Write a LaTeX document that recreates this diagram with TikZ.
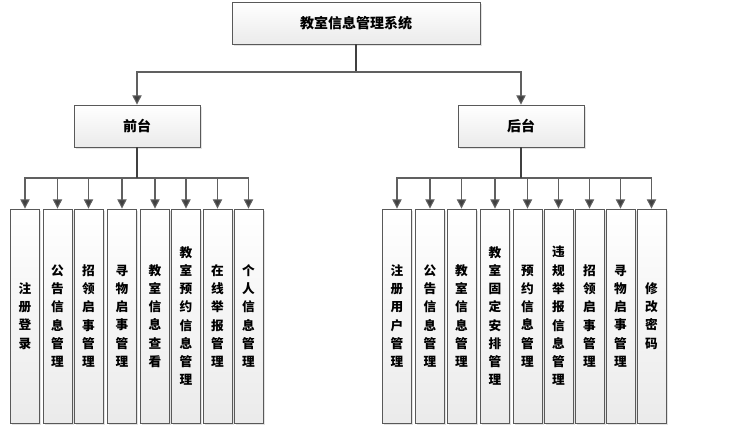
\documentclass[tikz,border=0pt]{standalone}
\usepackage{fontspec}
\newfontfamily\cjk{Noto Sans CJK SC}
\usetikzlibrary{arrows.meta,shadows}
\begin{document}
\begin{tikzpicture}[x=0.75pt,y=-0.75pt,
  box/.style={draw=gray!70!black, line width=0.6pt, top color=white, bottom color=gray!16,
    drop shadow={shadow xshift=1.2pt,shadow yshift=-1.2pt,fill=gray!45},
    font=\cjk\bfseries\fontsize{10.5pt}{12pt}\selectfont, inner sep=0pt},
  hbox/.style={box, minimum width=94.5pt, minimum height=31.5pt},
  vbox/.style={box, minimum width=21.75pt, minimum height=160.5pt, align=center,
    font=\cjk\bfseries\fontsize{9.5pt}{13.7pt}\selectfont},
  trunk/.style={draw=black!75, line width=1.3pt},
  arr/.style={draw=gray!75!black, line width=0.8pt, -{Triangle[width=7pt,length=7pt,fill=black!75]}}
]
\useasboundingbox (0,0) rectangle (731,427);
\node[box, minimum width=186pt, minimum height=31.5pt] (top) at (356,23) {教室信息管理系统};
\node[hbox] (front) at (137,126) {前台};
\node[hbox] (back) at (521,126) {后台};
\coordinate (tj) at (356,72);
\coordinate (lj) at (137,178);
\coordinate (rj) at (521,178);
% left children
\node[vbox] (l1) at (25,316) {注\\册\\登\\录};
\node[vbox] (l2) at (57.5,316) {公\\告\\信\\息\\管\\理};
\node[vbox] (l3) at (88.5,316) {招\\领\\启\\事\\管\\理};
\node[vbox] (l4) at (122,316) {寻\\物\\启\\事\\管\\理};
\node[vbox] (l5) at (155,316) {教\\室\\信\\息\\查\\看};
\node[vbox] (l6) at (186,316) {教\\室\\预\\约\\信\\息\\管\\理};
\node[vbox] (l7) at (217.5,316) {在\\线\\举\\报\\管\\理};
\node[vbox] (l8) at (248.5,316) {个\\人\\信\\息\\管\\理};
% right children
\node[vbox] (r1) at (397,316) {注\\册\\用\\户\\管\\理};
\node[vbox] (r2) at (430,316) {公\\告\\信\\息\\管\\理};
\node[vbox] (r3) at (461.5,316) {教\\室\\信\\息\\管\\理};
\node[vbox] (r4) at (495,316) {教\\室\\固\\定\\安\\排\\管\\理};
\node[vbox] (r5) at (527.5,316) {预\\约\\信\\息\\管\\理};
\node[vbox] (r6) at (558.5,316) {违\\规\\举\\报\\信\\息\\管\\理};
\node[vbox] (r7) at (589.5,316) {招\\领\\启\\事\\管\\理};
\node[vbox] (r8) at (620.5,316) {寻\\物\\启\\事\\管\\理};
\node[vbox] (r9) at (651.5,316) {修\\改\\密\\码};
% connectors
\draw[trunk] (top.south) -- (tj);
\draw[arr] (tj) -| (front.north);
\draw[arr] (tj) -| (back.north);
\foreach \n in {l1,l2,l3,l4,l5,l6,l7,l8} \draw[arr] (lj) -| (\n.north);
\foreach \n in {r1,r2,r3,r4,r5,r6,r7,r8,r9} \draw[arr] (rj) -| (\n.north);
\draw[trunk] (front.south) -- (lj);
\draw[trunk] (back.south) -- (rj);
\end{tikzpicture}
\end{document}
